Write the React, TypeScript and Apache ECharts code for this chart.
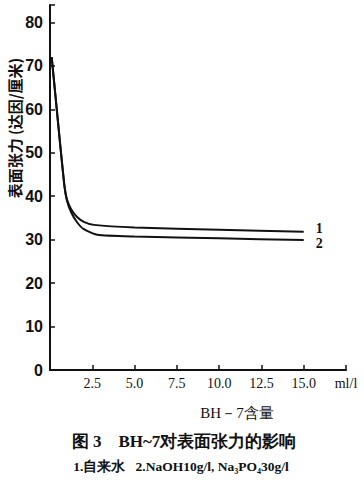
import React, { useEffect, useRef } from "react";
import * as echarts from "echarts";

const xTicks = [2.5, 5.0, 7.5, 10.0, 12.5, 15.0];
const yTicks = [0, 10, 20, 30, 40, 50, 60, 70, 80];
const series1Name = "1";
const series2Name = "2";
const curve1: [number, number][] = [
  [0.1, 72], [0.35, 62], [0.6, 52], [0.85, 42.5], [1.0, 39.3], [1.25, 37],
  [1.6, 35.2], [2.0, 34.1], [2.6, 33.4], [5.0, 32.8], [10.0, 32.3], [15.0, 31.8],
];
const curve2: [number, number][] = [
  [0.1, 72], [0.35, 62], [0.6, 52], [0.85, 42.5], [1.0, 39], [1.25, 36.3],
  [1.6, 34.0], [2.0, 32.4], [2.8, 31.1], [5.0, 30.7], [10.0, 30.3], [15.0, 29.9],
];
const yAxisName = "表面张力 (达因/厘米)";
const xAxisName = "BH－7含量";
const unitLabel = "ml/l";
const titleText = "图 3    BH~7对表面张力的影响";
const subtitleText = "1.自来水   2.NaOH10g/l, Na₃PO₄30g/l";

export default function App() {
  const ref = useRef<HTMLDivElement>(null);
  useEffect(() => {
    if (!ref.current) return;
    const chart = echarts.init(ref.current, null, { renderer: "svg" });
    const serif = "'Liberation Serif', 'DejaVu Serif', serif";
    const cjk = "'Noto Sans CJK SC', sans-serif";
    chart.setOption({
      animation: false,
      backgroundColor: "#ffffff",
      grid: { left: 50, right: 18, top: 5, bottom: 110 },
      xAxis: {
        type: "value",
        min: 0,
        max: 17.5,
        interval: 2.5,
        axisLine: { show: true, lineStyle: { color: "#111", width: 2 } },
        axisTick: {
          show: true,
          inside: true,
          length: 5,
          lineStyle: { color: "#111", width: 1.5 },
        },
        splitLine: { show: false },
        axisLabel: {
          margin: 6,
          color: "#111",
          fontFamily: serif,
          fontSize: 14,
          formatter: (v: number) => {
            if (Math.abs(v - 17.5) < 1e-6) return unitLabel;
            const hit = xTicks.find((t) => Math.abs(t - v) < 1e-6);
            return hit !== undefined ? hit.toFixed(1) : "";
          },
        },
      },
      yAxis: {
        type: "value",
        min: 0,
        max: 84,
        interval: 10,
        axisLine: { show: true, lineStyle: { color: "#111", width: 2 } },
        axisTick: {
          show: true,
          inside: true,
          length: 5,
          lineStyle: { color: "#111", width: 1.5 },
        },
        splitLine: { show: false },
        axisLabel: {
          margin: 7,
          color: "#111",
          fontFamily: "'Liberation Sans', Arial, sans-serif",
          fontWeight: "bold",
          fontSize: 16,
          formatter: (v: number) => (yTicks.includes(v) ? String(v) : ""),
        },
      },
      series: [
        {
          name: series1Name,
          type: "line",
          data: curve1,
          smooth: 0.2,
          showSymbol: false,
          lineStyle: { color: "#111", width: 2 },
          endLabel: {
            show: true,
            formatter: series1Name,
            offset: [4, -3],
            color: "#111",
            fontFamily: serif,
            fontWeight: "bold",
            fontSize: 14,
          },
        },
        {
          name: series2Name,
          type: "line",
          data: curve2,
          smooth: 0.2,
          showSymbol: false,
          lineStyle: { color: "#111", width: 2 },
          endLabel: {
            show: true,
            formatter: series2Name,
            offset: [4, 3],
            color: "#111",
            fontFamily: serif,
            fontWeight: "bold",
            fontSize: 14,
          },
        },
      ],
      graphic: [
        {
          type: "text",
          x: 14,
          y: 128,
          rotation: Math.PI / 2,
          style: {
            text: yAxisName,
            fill: "#111",
            font: `bold 15px ${cjk}`,
            textAlign: "center",
            textVerticalAlign: "middle",
          },
        },
        {
          type: "text",
          x: 237,
          y: 413,
          style: {
            text: xAxisName,
            fill: "#111",
            font: `15px ${serif}`,
            textAlign: "center",
            textVerticalAlign: "middle",
          },
        },
        {
          type: "text",
          x: 184,
          y: 441,
          style: {
            text: titleText,
            fill: "#111",
            font: `bold 17px ${serif}`,
            textAlign: "center",
            textVerticalAlign: "middle",
          },
        },
        {
          type: "text",
          x: 181,
          y: 466,
          style: {
            text: subtitleText,
            fill: "#111",
            font: `bold 13.5px ${serif}`,
            textAlign: "center",
            textVerticalAlign: "middle",
          },
        },
      ],
    });
    return () => chart.dispose();
  }, []);
  return (
    <div
      ref={ref}
      style={{ position: "absolute", left: 0, top: 0, width: 364, height: 480 }}
    />
  );
}
